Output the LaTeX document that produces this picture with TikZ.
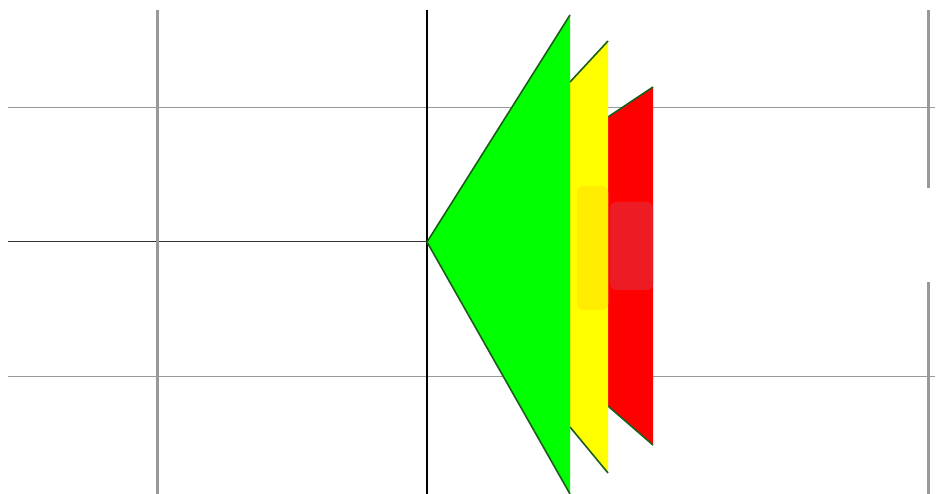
\documentclass[tikz,border=0pt]{standalone}
\usepackage{tikz}
\definecolor{gridgray}{HTML}{999999}
\definecolor{edgegreen}{HTML}{1A5E1A}
\definecolor{fillgreen}{HTML}{00FF00}
\definecolor{fillyellow}{HTML}{FFFF00}
\definecolor{fillred}{HTML}{FF0000}
\definecolor{blobyellow}{HTML}{FFEC00}
\definecolor{blobred}{HTML}{ED1C24}
\tikzset{
  gridline/.style={gridgray,line width=1pt},
  postline/.style={gridgray,line width=3pt},
  wedgeedge/.style={edgegreen,line width=1.6pt}
}

\begin{document}
\begin{tikzpicture}[x=1pt,y=-1pt]
        \useasboundingbox (0,0) rectangle (938,494);
        \draw[gridline] (8,108) -- (935,108);
        \draw[gridline] (8,377) -- (935,377);
        \draw[black!80,line width=1pt] (8,242) -- (427,242);
        \draw[postline] (157,10) -- (157,494);
        \draw[postline] (928,10) -- (928,188);
        \draw[postline] (928,282) -- (928,494);
        \draw[black,line width=2.5pt] (427,10) -- (427,494);
        % red band
        \fill[fillred] (608,117) -- (653,87) -- (653,445) -- (608,406) -- cycle;
        \draw[wedgeedge] (608,117) -- (653,87);
        \draw[wedgeedge] (608,406) -- (653,445);
        % yellow band
        \fill[fillyellow] (570,82) -- (608,41) -- (608,473) -- (570,427) -- cycle;
        \draw[wedgeedge] (570,82) -- (608,41);
        \draw[wedgeedge] (570,427) -- (608,473);
        % green wedge
        \fill[fillgreen] (427,242) -- (570,15) -- (570,494) -- cycle;
        \draw[wedgeedge] (570,494) -- (427,242) -- (570,15);
        \fill[blobyellow,rounded corners=6pt] (577,186) rectangle (608,310);
        \fill[blobred,rounded corners=6pt] (610,202) rectangle (653,290);
      \end{tikzpicture}
\end{document}
